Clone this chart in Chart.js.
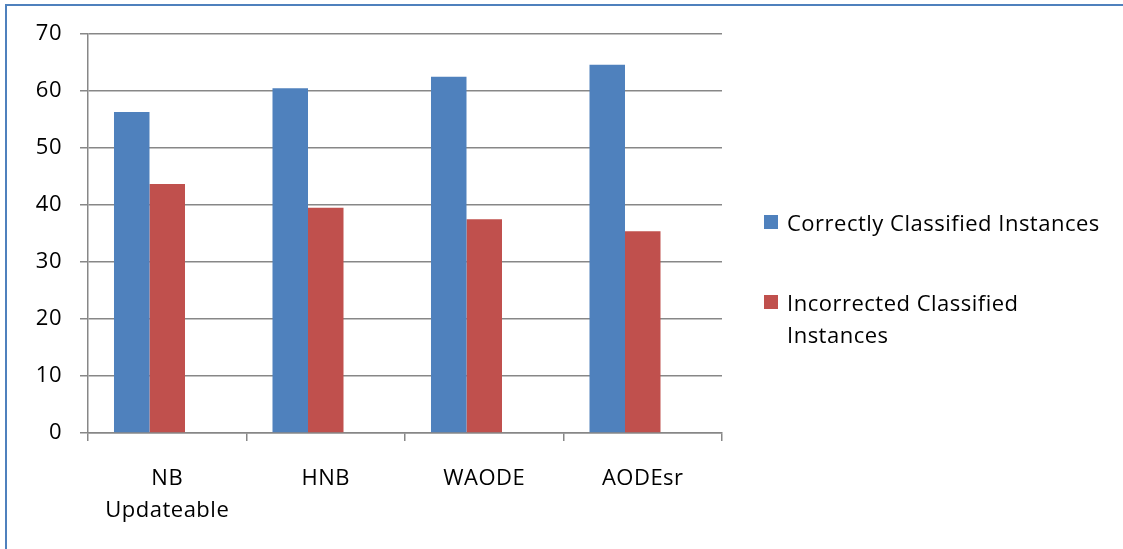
<!DOCTYPE html>
<html>
<head>
<meta charset="utf-8">
<script src="https://cdn.jsdelivr.net/npm/chart.js@4/dist/chart.umd.min.js"></script>
<style>
  html, body { margin: 0; padding: 0; background: #fff; overflow: hidden; }
  #wrap { position: relative; width: 1123px; height: 549px; overflow: hidden; }
  #frame { position: absolute; left: 5px; top: 4px; width: 1200px; height: 600px; border: 2px solid #4f81bd; box-sizing: border-box; }
  #chart { position: absolute; left: 0; top: 0; }
  #legend { position: absolute; left: 764px; top: 0; font-family: "Open Sans", "Liberation Sans", sans-serif; font-size: 22px; letter-spacing: 0.5px; color: #000; }
  .item { position: absolute; left: 0; display: flex; align-items: flex-start; }
  .box { width: 14px; height: 14px; flex: none; }
  .txt { margin-left: 9px; width: 328px; line-height: 32px; }
</style>
</head>
<body>
<div id="wrap">
  <div id="frame"></div>
  <canvas id="chart" width="1123" height="549"></canvas>
  <div id="legend"></div>
</div>
<script>
// Dados do gráfico
const categorias = [['NB', 'Updateable'], 'HNB', 'WAODE', 'AODEsr'];
const corretos = [56.3, 60.5, 62.5, 64.6];
const incorretos = [43.7, 39.5, 37.5, 35.4];
const rotulosSeries = ['Correctly Classified Instances', 'Incorrected Classified Instances'];
const coresSeries = ['#4f81bd', '#c0504d'];
const eixoY = { min: 0, max: 70, passo: 10 };

const fonte = { family: '"Open Sans", "Liberation Sans", sans-serif', size: 22 };
const cinza = '#878787';

// espaçamento entre letras parecido com o Excel
const espacamento = {
    id: 'espacamento',
    beforeInit: chart => { chart.ctx.letterSpacing = '0.5px'; },
    beforeDraw: chart => { chart.ctx.letterSpacing = '0.5px'; }
};

const ctx = document.getElementById('chart').getContext('2d');
new Chart(ctx, {
    type: 'bar',
    plugins: [espacamento],
    data: {
        labels: categorias,
        datasets: [
            { label: rotulosSeries[0], data: corretos, backgroundColor: coresSeries[0] },
            { label: rotulosSeries[1], data: incorretos, backgroundColor: coresSeries[1] },
            // espaço vazio à direita de cada grupo (como no Excel)
            { label: '', data: categorias.map(() => null), backgroundColor: 'transparent' }
        ]
    },
    options: {
        responsive: false,
        animation: false,
        layout: { padding: { left: 0, top: 34, right: 401, bottom: 0 } },
        datasets: { bar: { barPercentage: 1, categoryPercentage: 0.672 } },
        plugins: { legend: { display: false }, tooltip: { enabled: false } },
        scales: {
            x: {
                afterFit: s => { s.height = 116; },
                grid: { drawOnChartArea: false, offset: true, color: cinza, lineWidth: 1.5, tickLength: 8 },
                border: { color: cinza, width: 1.5 },
                ticks: { color: '#000', font: { ...fonte, lineHeight: 1.45 }, padding: 22, maxRotation: 0 }
            },
            y: {
                min: eixoY.min,
                max: eixoY.max,
                afterFit: s => { s.width = 88; },
                grid: { color: cinza, lineWidth: 1.5, tickLength: 8 },
                border: { color: cinza, width: 1.5 },
                ticks: { stepSize: eixoY.passo, color: '#000', font: fonte, padding: 18 }
            }
        }
    }
});

// Legenda em HTML (texto quebra em duas linhas como no original)
const legenda = document.getElementById('legend');
const posicoes = [206, 286];
rotulosSeries.forEach((txt, i) => {
    const item = document.createElement('div');
    item.className = 'item';
    item.style.top = posicoes[i] + 'px';
    item.innerHTML = `<div class="box" style="background:${coresSeries[i]};margin-top:9px"></div><div class="txt">${txt}</div>`;
    legenda.appendChild(item);
});
</script>
</body>
</html>
